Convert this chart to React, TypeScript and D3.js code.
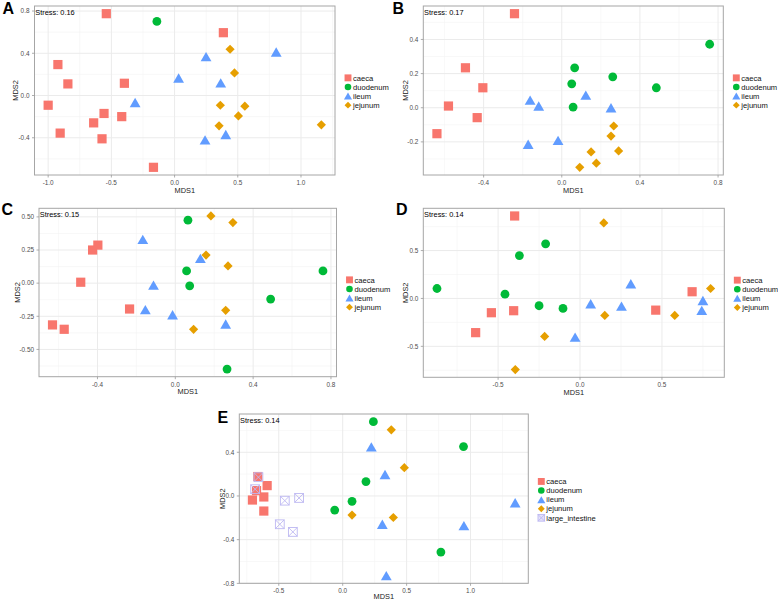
import { useEffect, useRef } from 'react';
import * as d3 from 'd3';

type Pt = [number, number];

const groups = ['caeca', 'duodenum', 'ileum', 'jejunum', 'large_intestine'];
const groupColors = ['#F8766D', '#00BA38', '#619CFF', '#E69F00', '#BDB8F2'];

// panel A
const aCaeca: Pt[] = [[-0.54, 0.775], [0.386, 0.595], [-0.923, 0.293], [-0.844, 0.11], [-0.397, 0.116], [-1.0, -0.092], [-0.558, -0.17], [-0.418, -0.2], [-0.64, -0.259], [-0.905, -0.356], [-0.574, -0.41], [-0.167, -0.68]];
const aDuodenum: Pt[] = [[-0.14, 0.702]];
const aIleum: Pt[] = [[0.249, 0.368], [0.804, 0.412], [0.032, 0.166], [0.365, 0.12], [-0.312, -0.066], [0.241, -0.42], [0.405, -0.369]];
const aJejunum: Pt[] = [[0.439, 0.438], [0.474, 0.214], [0.362, -0.092], [0.556, -0.101], [0.505, -0.193], [0.352, -0.287], [1.161, -0.278]];

// panel B
const bCaeca: Pt[] = [[-0.242, 0.551], [-0.493, 0.234], [-0.404, 0.117], [-0.58, 0.01], [-0.433, -0.058], [-0.639, -0.152]];
const bDuodenum: Pt[] = [[0.757, 0.372], [0.066, 0.234], [0.261, 0.181], [0.051, 0.14], [0.484, 0.117], [0.058, 0.004]];
const bIleum: Pt[] = [[-0.162, 0.045], [-0.118, 0.01], [0.123, 0.074], [0.252, 0.0], [-0.172, -0.214], [-0.019, -0.191]];
const bJejunum: Pt[] = [[0.266, -0.107], [0.252, -0.166], [0.15, -0.259], [0.291, -0.253], [0.177, -0.325], [0.092, -0.349]];

// panel C
const cCaeca: Pt[] = [[-0.398, 0.287], [-0.425, 0.25], [-0.486, 0.007], [-0.235, -0.195], [-0.631, -0.315], [-0.571, -0.348]];
const cDuodenum: Pt[] = [[0.065, 0.475], [0.058, 0.092], [0.074, -0.02], [0.759, 0.092], [0.49, -0.12], [0.266, -0.648]];
const cIleum: Pt[] = [[-0.167, 0.33], [0.129, 0.187], [-0.112, -0.015], [-0.154, -0.2], [-0.014, -0.238], [0.259, -0.308]];
const cJejunum: Pt[] = [[0.183, 0.507], [0.296, 0.457], [0.158, 0.212], [0.271, 0.13], [0.259, -0.205], [0.094, -0.348]];

// panel D
const dCaeca: Pt[] = [[-0.399, 0.861], [-0.541, -0.149], [-0.405, -0.128], [-0.637, -0.357], [0.462, -0.122], [0.684, 0.07]];
const dDuodenum: Pt[] = [[-0.873, 0.104], [-0.21, 0.57], [-0.37, 0.448], [-0.458, 0.045], [-0.25, -0.076], [-0.104, -0.104]];
const dIleum: Pt[] = [[0.31, 0.153], [0.065, -0.055], [0.253, -0.08], [0.75, -0.021], [0.743, -0.125], [-0.03, -0.403]];
const dJejunum: Pt[] = [[0.145, 0.788], [0.797, 0.104], [0.151, -0.177], [0.578, -0.177], [-0.216, -0.396], [-0.395, -0.743]];

// panel E
const eCaeca: Pt[] = [[-0.664, 0.178], [-0.591, 0.095], [-0.674, 0.049], [-0.617, -0.009], [-0.706, -0.037], [-0.617, -0.138]];
const eDuodenum: Pt[] = [[0.24, 0.68], [0.945, 0.452], [0.182, 0.132], [0.073, -0.049], [-0.0625, -0.129], [0.768, -0.514]];
const eIleum: Pt[] = [[0.224, 0.45], [0.331, 0.197], [1.349, -0.062], [0.31, -0.259], [0.948, -0.271], [0.341, -0.729]];
const eJejunum: Pt[] = [[0.38, 0.606], [0.482, 0.259], [0.073, -0.175], [0.396, -0.197]];
const eLargeIntestine: Pt[] = [[-0.659, 0.172], [-0.685, 0.062], [-0.453, -0.043], [-0.341, -0.018], [-0.492, -0.259], [-0.39, -0.329]];

const aXTicks = [-1.0, -0.5, 0, 0.5, 1.0];
const aYTicks = [-0.4, 0, 0.4, 0.8];
const bXTicks = [-0.4, 0, 0.4, 0.8];
const bYTicks = [-0.2, 0, 0.2, 0.4];
const cXTicks = [-0.4, 0, 0.4, 0.8];
const cYTicks = [-0.5, -0.25, 0, 0.25, 0.5];
const dXTicks = [-0.5, 0, 0.5];
const dYTicks = [-0.5, 0, 0.5];
const eXTicks = [-0.5, 0, 0.5, 1.0];
const eYTicks = [-0.8, -0.4, 0, 0.4];

const stressLabels = ['Stress: 0.16', 'Stress: 0.17', 'Stress: 0.15', 'Stress: 0.14', 'Stress: 0.14'];

interface Panel {
	letter: string;
	stress: string;
	series: Pt[][];
	xTicks: number[];
	yTicks: number[];
	xDigits: number;
	yDigits: number;
	left: number;
	top: number;
	right: number;
	bottom: number;
	yTitleX: number;
	letterX: number;
	letterY: number;
}

const panels: Panel[] = [
	{ letter: 'A', stress: stressLabels[0], series: [aCaeca, aDuodenum, aIleum, aJejunum], xTicks: aXTicks, yTicks: aYTicks, xDigits: 1, yDigits: 1, left: 34.5, top: 6, right: 335, bottom: 175, yTitleX: 15, letterX: 2.5, letterY: 14 },
	{ letter: 'B', stress: stressLabels[1], series: [bCaeca, bDuodenum, bIleum, bJejunum], xTicks: bXTicks, yTicks: bYTicks, xDigits: 1, yDigits: 1, left: 423.3, top: 6, right: 723.3, bottom: 175, yTitleX: 405, letterX: 392.5, letterY: 14 },
	{ letter: 'C', stress: stressLabels[2], series: [cCaeca, cDuodenum, cIleum, cJejunum], xTicks: cXTicks, yTicks: cYTicks, xDigits: 1, yDigits: 2, left: 39, top: 208.3, right: 336.5, bottom: 376.7, yTitleX: 17.3, letterX: 1.5, letterY: 214.5 },
	{ letter: 'D', stress: stressLabels[3], series: [dCaeca, dDuodenum, dIleum, dJejunum], xTicks: dXTicks, yTicks: dYTicks, xDigits: 1, yDigits: 1, left: 423.3, top: 208.3, right: 724.3, bottom: 377.3, yTitleX: 405, letterX: 396, letterY: 215 },
	{ letter: 'E', stress: stressLabels[4], series: [eCaeca, eDuodenum, eIleum, eJejunum, eLargeIntestine], xTicks: eXTicks, yTicks: eYTicks, xDigits: 1, yDigits: 1, left: 239.3, top: 414, right: 528.3, bottom: 583.3, yTitleX: 222, letterX: 217.5, letterY: 423 },
];

const FONT = "'Liberation Sans', Arial, sans-serif";

function addMarker(
	g: d3.Selection<SVGGElement, unknown, null, undefined>,
	gi: number,
	cx: number,
	cy: number,
	k: number,
	legend = false
) {
	const c = groupColors[gi];
	if (gi === 0) {
		const s = 9.2 * k;
		g.append('rect').attr('x', cx - s / 2).attr('y', cy - s / 2).attr('width', s).attr('height', s).attr('fill', c);
	} else if (gi === 1) {
		g.append('circle').attr('cx', cx).attr('cy', cy).attr('r', 4.4 * k).attr('fill', c);
	} else if (gi === 2) {
		const w = 10.8 * k;
		const h = (w * Math.sqrt(3)) / 2;
		g.append('path')
			.attr('d', `M${cx},${cy - h / 2}L${cx + w / 2},${cy + h / 2}L${cx - w / 2},${cy + h / 2}Z`)
			.attr('fill', c);
	} else if (gi === 3) {
		const r = 4.6 * k;
		g.append('path')
			.attr('d', `M${cx},${cy - r}L${cx + r},${cy}L${cx},${cy + r}L${cx - r},${cy}Z`)
			.attr('fill', c);
	} else {
		const s = 8.8 * k;
		const x0 = cx - s / 2;
		const y0 = cy - s / 2;
		g.append('rect')
			.attr('x', x0).attr('y', y0).attr('width', s).attr('height', s)
			.attr('fill', legend ? '#E4E2FA' : 'none')
			.attr('stroke', c).attr('stroke-width', 0.9);
		g.append('path')
			.attr('d', `M${x0},${y0}L${x0 + s},${y0 + s}M${x0 + s},${y0}L${x0},${y0 + s}`)
			.attr('stroke', c).attr('stroke-width', 0.9).attr('fill', 'none');
	}
}

const App: React.FC = () => {
	const svgRef = useRef<SVGSVGElement>(null);

	useEffect(() => {
		if (!svgRef.current) return;
		const svg = d3.select(svgRef.current);
		svg.selectAll('*').remove();

		panels.forEach((p) => {
			const all = p.series.flat();
			const xExt = d3.extent(all, (d) => d[0]) as [number, number];
			const yExt = d3.extent(all, (d) => d[1]) as [number, number];
			const xPad = (xExt[1] - xExt[0]) * 0.05;
			const yPad = (yExt[1] - yExt[0]) * 0.05;
			const x = d3.scaleLinear().domain([xExt[0] - xPad, xExt[1] + xPad]).range([p.left, p.right]);
			const y = d3.scaleLinear().domain([yExt[0] - yPad, yExt[1] + yPad]).range([p.bottom, p.top]);

			const g = svg.append('g');

			g.append('rect')
				.attr('x', p.left).attr('y', p.top)
				.attr('width', p.right - p.left).attr('height', p.bottom - p.top)
				.attr('fill', '#fff');

			// minor grid: midpoints between breaks
			const minor = (ticks: number[], dom: number[]) => {
				const step = ticks[1] - ticks[0];
				const out: number[] = [];
				for (let v = ticks[0] - step / 2; v <= ticks[ticks.length - 1] + step; v += step) {
					if (v > dom[0] && v < dom[1]) out.push(v);
				}
				return out;
			};
			minor(p.xTicks, x.domain()).forEach((v) => {
				g.append('line').attr('x1', x(v)).attr('x2', x(v)).attr('y1', p.top).attr('y2', p.bottom)
					.attr('stroke', '#F4F4F4').attr('stroke-width', 0.6);
			});
			minor(p.yTicks, y.domain()).forEach((v) => {
				g.append('line').attr('x1', p.left).attr('x2', p.right).attr('y1', y(v)).attr('y2', y(v))
					.attr('stroke', '#F4F4F4').attr('stroke-width', 0.6);
			});
			p.xTicks.forEach((v) => {
				g.append('line').attr('x1', x(v)).attr('x2', x(v)).attr('y1', p.top).attr('y2', p.bottom)
					.attr('stroke', '#EBEBEB').attr('stroke-width', 1);
			});
			p.yTicks.forEach((v) => {
				g.append('line').attr('x1', p.left).attr('x2', p.right).attr('y1', y(v)).attr('y2', y(v))
					.attr('stroke', '#EBEBEB').attr('stroke-width', 1);
			});

			// points
			p.series.forEach((pts, gi) => {
				pts.forEach((d) => addMarker(g, gi, x(d[0]), y(d[1]), 1));
			});

			// border
			g.append('rect')
				.attr('x', p.left).attr('y', p.top)
				.attr('width', p.right - p.left).attr('height', p.bottom - p.top)
				.attr('fill', 'none').attr('stroke', '#A6A6A6').attr('stroke-width', 1);

			// ticks & labels
			p.xTicks.forEach((v) => {
				g.append('line').attr('x1', x(v)).attr('x2', x(v)).attr('y1', p.bottom).attr('y2', p.bottom + 2.5)
					.attr('stroke', '#999').attr('stroke-width', 0.8);
				g.append('text')
					.text(d3.format(`.${p.xDigits}f`)(v).replace('−', '-'))
					.attr('x', x(v)).attr('y', p.bottom + 10)
					.attr('text-anchor', 'middle')
					.style('font-family', FONT).style('font-size', '6.4px').style('fill', '#4D4D4D');
			});
			p.yTicks.forEach((v) => {
				g.append('line').attr('x1', p.left - 2.5).attr('x2', p.left).attr('y1', y(v)).attr('y2', y(v))
					.attr('stroke', '#999').attr('stroke-width', 0.8);
				g.append('text')
					.text(d3.format(`.${p.yDigits}f`)(v).replace('−', '-'))
					.attr('x', p.left - 5).attr('y', y(v)).attr('dy', '0.35em')
					.attr('text-anchor', 'end')
					.style('font-family', FONT).style('font-size', '6.4px').style('fill', '#4D4D4D');
			});

			// axis titles
			g.append('text')
				.text('MDS1')
				.attr('x', (p.left + p.right) / 2).attr('y', Math.min(p.bottom + 17.5, 599))
				.attr('text-anchor', 'middle')
				.style('font-family', FONT).style('font-size', '7.4px').style('fill', '#222');
			g.append('text')
				.text('MDS2')
				.attr('transform', `translate(${p.yTitleX}, ${(p.top + p.bottom) / 2}) rotate(-90)`)
				.attr('text-anchor', 'middle').attr('dy', '0.35em')
				.style('font-family', FONT).style('font-size', '7.4px').style('fill', '#222');

			// stress
			g.append('text')
				.text(p.stress)
				.attr('x', p.left + 0.8).attr('y', p.top + 8.6)
				.style('font-family', FONT).style('font-size', '7.4px').style('fill', '#000');

			// panel letter
			g.append('text')
				.text(p.letter)
				.attr('x', p.letterX).attr('y', p.letterY)
				.style('font-family', FONT).style('font-size', '16px').style('font-weight', 'bold').style('fill', '#000');

			// legend
			const n = p.series.length;
			const rowH = 9.1;
			const midY = (p.top + p.bottom) / 2 + 1;
			const keyX = p.right + 13;
			for (let i = 0; i < n; i++) {
				const ky = midY + (i - (n - 1) / 2) * rowH;
				addMarker(g, i, keyX, ky, 0.75, true);
				g.append('text')
					.text(groups[i])
					.attr('x', keyX + 5).attr('y', ky).attr('dy', '0.35em')
					.style('font-family', FONT).style('font-size', '7.6px').style('fill', '#111');
			}
		});
	}, []);

	return (
		<svg
			ref={svgRef}
			width={778}
			height={601}
			style={{ position: 'absolute', left: 0, top: 0, background: '#fff' }}
		></svg>
	);
};

export default App;
